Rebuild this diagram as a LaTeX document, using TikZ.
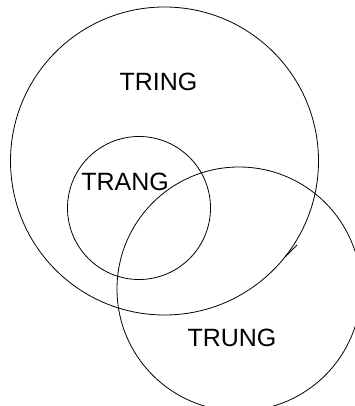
\documentclass[tikz,border=0pt]{standalone}
\usepackage{fontspec}
\setmainfont{Liberation Sans}
\usepackage{tikz}
\usetikzlibrary{positioning}
\definecolor{setInk}{HTML}{000000}

\tikzset{
  setline/.style={setInk, line width=0.8pt},
  setlabel/.style={inner sep=0pt, font=\fontsize{25}{30}\selectfont, text=setInk}
}

\begin{document}
\begin{tikzpicture}[x=1pt, y=-1pt]
  \useasboundingbox (0,0) rectangle (355,406);
  \clip (0,0) rectangle (355,406);
  % the three sets
  \draw[setline] (164.5,161) circle (154pt);
  \draw[setline] (139,208) circle (71.5pt);
  \draw[setline] (239,289) circle (122pt);
  % little overshoot where the big ring closes
  \draw[setline] (285,257) -- (297,245);
  \node[setlabel] (tring) at (158.5,82) {TRING};
  \node[setlabel] (trang) at (125,182) {TRANG};
  \node[setlabel] (trung) at (232,337.5) {TRUNG};
\end{tikzpicture}
\end{document}
